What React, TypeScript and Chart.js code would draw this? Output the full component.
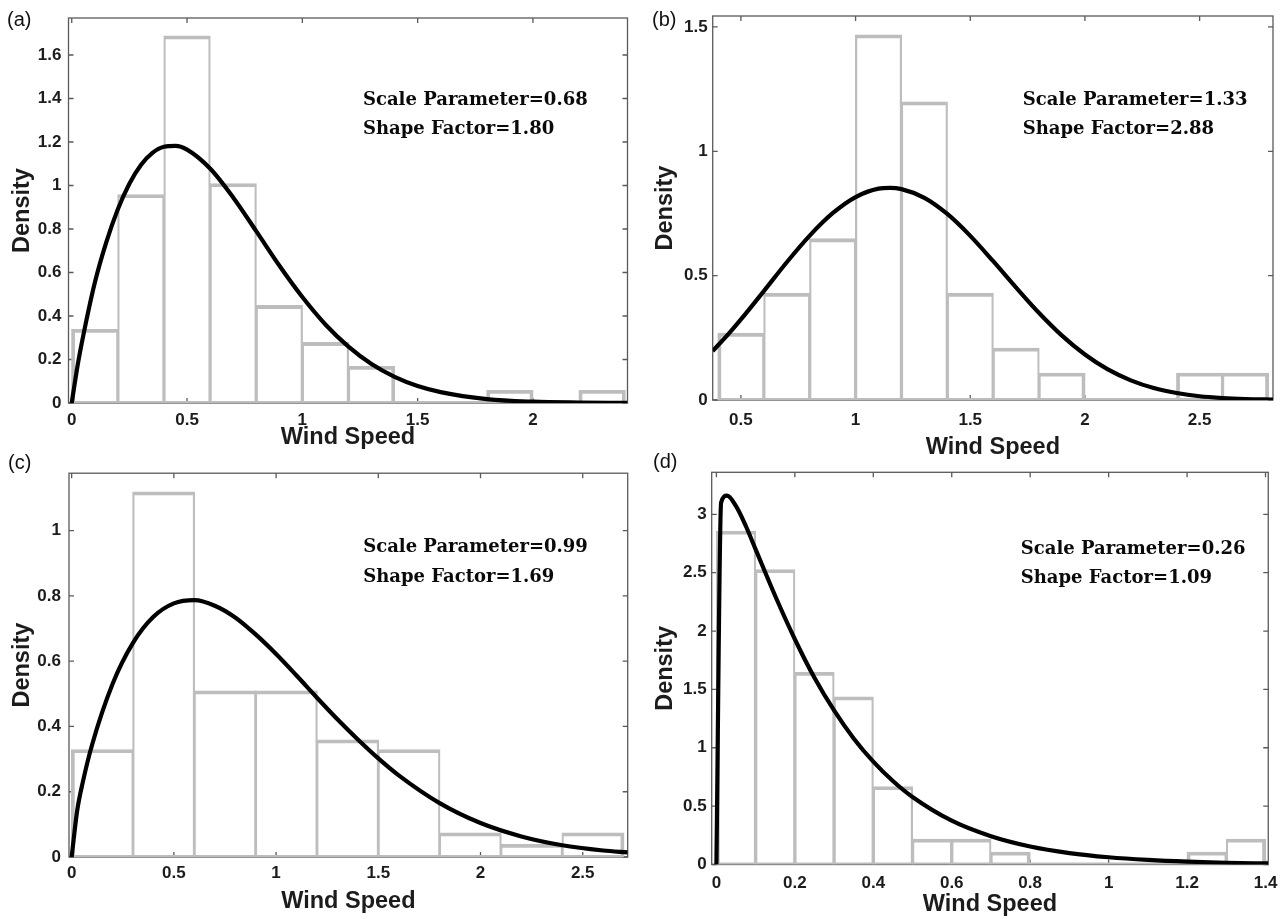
import React, { useEffect, useRef } from 'react';
import { Chart, registerables } from 'chart.js';

Chart.register(...registerables);

// ---------------- Panel (a) ----------------
const aBinCenters = [0.1, 0.3, 0.5, 0.7, 0.9, 1.1, 1.3, 1.5, 1.7, 1.9, 2.1, 2.3];
const aDensity = [0.34, 0.96, 1.69, 1.01, 0.45, 0.28, 0.17, 0, 0, 0.06, 0, 0.06];
const aCurveX = [0, 0.025, 0.05, 0.1, 0.15, 0.2, 0.25, 0.3, 0.35, 0.4, 0.45, 0.5, 0.6, 0.7, 0.8, 0.9, 1.0, 1.1, 1.2, 1.3, 1.4, 1.5, 1.6, 1.8, 2.0, 2.2, 2.41];
const aCurveY = [0, 0.17, 0.31, 0.553, 0.74, 0.891, 1.008, 1.094, 1.15, 1.178, 1.182, 1.165, 1.078, 0.945, 0.79, 0.632, 0.487, 0.361, 0.259, 0.179, 0.12, 0.078, 0.05, 0.018, 0.006, 0.002, 0.0004];
const aXTicks = [0, 0.5, 1, 1.5, 2];
const aXTickLabels = ['0', '0.5', '1', '1.5', '2'];
const aYTicks = [0, 0.2, 0.4, 0.6, 0.8, 1, 1.2, 1.4, 1.6];
const aYTickLabels = ['0', '0.2', '0.4', '0.6', '0.8', '1', '1.2', '1.4', '1.6'];
const aXRange = [-0.014, 2.41];
const aYRange = [0, 1.77];
const aNote = ['Scale Parameter=0.68', 'Shape Factor=1.80'];
const aNoteAt = [1.263, 1.393, 1.26];

// ---------------- Panel (b) ----------------
const bBinCenters = [0.5, 0.7, 0.9, 1.1, 1.3, 1.5, 1.7, 1.9, 2.1, 2.3, 2.5, 2.7];
const bDensity = [0.27, 0.43, 0.65, 1.47, 1.2, 0.43, 0.21, 0.11, 0, 0, 0.11, 0.11];
const bCurveX = [0.377, 0.45, 0.5, 0.6, 0.7, 0.8, 0.9, 1.0, 1.1, 1.15, 1.2, 1.3, 1.4, 1.5, 1.6, 1.7, 1.8, 1.9, 2.0, 2.1, 2.2, 2.3, 2.4, 2.5, 2.6, 2.7, 2.82];
const bCurveY = [0.197, 0.27, 0.324, 0.438, 0.554, 0.661, 0.751, 0.816, 0.85, 0.853, 0.848, 0.813, 0.748, 0.66, 0.558, 0.452, 0.35, 0.259, 0.183, 0.123, 0.079, 0.048, 0.028, 0.015, 0.008, 0.004, 0.0015];
const bXTicks = [0.5, 1, 1.5, 2, 2.5];
const bXTickLabels = ['0.5', '1', '1.5', '2', '2.5'];
const bYTicks = [0, 0.5, 1, 1.5];
const bYTickLabels = ['0', '0.5', '1', '1.5'];
const bXRange = [0.377, 2.82];
const bYRange = [0, 1.544];
const bNote = ['Scale Parameter=1.33', 'Shape Factor=2.88'];
const bNoteAt = [1.729, 1.206, 1.09];

// ---------------- Panel (c) ----------------
const cBinCenters = [0.15, 0.45, 0.75, 1.05, 1.35, 1.65, 1.95, 2.25, 2.55];
const cDensity = [0.33, 1.12, 0.51, 0.51, 0.36, 0.33, 0.075, 0.04, 0.075];
const cCurveX = [0, 0.027, 0.054, 0.1, 0.2, 0.3, 0.4, 0.5, 0.6, 0.7, 0.8, 0.9, 1.0, 1.1, 1.2, 1.3, 1.4, 1.5, 1.6, 1.8, 2.0, 2.2, 2.4, 2.6, 2.72];
const cCurveY = [0, 0.142, 0.228, 0.344, 0.53, 0.656, 0.736, 0.777, 0.787, 0.77, 0.734, 0.682, 0.622, 0.556, 0.488, 0.422, 0.36, 0.302, 0.25, 0.165, 0.104, 0.063, 0.036, 0.02, 0.014];
const cXTicks = [0, 0.5, 1, 1.5, 2, 2.5];
const cXTickLabels = ['0', '0.5', '1', '1.5', '2', '2.5'];
const cYTicks = [0, 0.2, 0.4, 0.6, 0.8, 1];
const cYTickLabels = ['0', '0.2', '0.4', '0.6', '0.8', '1'];
const cXRange = [-0.013, 2.72];
const cYRange = [0, 1.176];
const cNote = ['Scale Parameter=0.99', 'Shape Factor=1.69'];
const cNoteAt = [1.426, 0.948, 0.856];

// ---------------- Panel (d) ----------------
const dBinCenters = [0.05, 0.15, 0.25, 0.35, 0.45, 0.55, 0.65, 0.75, 0.85, 0.95, 1.05, 1.15, 1.25, 1.35];
const dDensity = [2.86, 2.53, 1.65, 1.44, 0.67, 0.22, 0.22, 0.11, 0, 0, 0, 0, 0.11, 0.22];
const dCurveX = [0, 0.012, 0.027, 0.05, 0.075, 0.1, 0.15, 0.2, 0.25, 0.3, 0.35, 0.4, 0.45, 0.5, 0.6, 0.7, 0.8, 0.9, 1.0, 1.1, 1.2, 1.3, 1.407];
const dCurveY = [0, 3.1, 3.16, 3.07, 2.9, 2.7, 2.3, 1.93, 1.6, 1.32, 1.08, 0.881, 0.715, 0.578, 0.375, 0.242, 0.154, 0.098, 0.062, 0.039, 0.024, 0.015, 0.009];
const dXTicks = [0, 0.2, 0.4, 0.6, 0.8, 1, 1.2, 1.4];
const dXTickLabels = ['0', '0.2', '0.4', '0.6', '0.8', '1', '1.2', '1.4'];
const dYTicks = [0, 0.5, 1, 1.5, 2, 2.5, 3];
const dYTickLabels = ['0', '0.5', '1', '1.5', '2', '2.5', '3'];
const dXRange = [-0.012, 1.407];
const dYRange = [0, 3.36];
const dNote = ['Scale Parameter=0.26', 'Shape Factor=1.09'];
const dNoteAt = [0.776, 2.704, 2.455];

const X_TITLE = 'Wind Speed';
const Y_TITLE = 'Density';

type Panel = {
  letter: string;
  binCenters: number[]; density: number[];
  curveX: number[]; curveY: number[];
  xTicks: number[]; xTickLabels: string[];
  yTicks: number[]; yTickLabels: string[];
  xRange: number[]; yRange: number[];
  note: string[]; noteAt: number[];
};

type Geo = {
  left: number; top: number; w: number; h: number;
  l: number; t: number; r: number; b: number;
  xPad: number; yPad: number; xtPad: number; ytPad: number;
  lx: number; ly: number;
};

const panels: Panel[] = [
  { letter: '(a)', binCenters: aBinCenters, density: aDensity, curveX: aCurveX, curveY: aCurveY, xTicks: aXTicks, xTickLabels: aXTickLabels, yTicks: aYTicks, yTickLabels: aYTickLabels, xRange: aXRange, yRange: aYRange, note: aNote, noteAt: aNoteAt },
  { letter: '(b)', binCenters: bBinCenters, density: bDensity, curveX: bCurveX, curveY: bCurveY, xTicks: bXTicks, xTickLabels: bXTickLabels, yTicks: bYTicks, yTickLabels: bYTickLabels, xRange: bXRange, yRange: bYRange, note: bNote, noteAt: bNoteAt },
  { letter: '(c)', binCenters: cBinCenters, density: cDensity, curveX: cCurveX, curveY: cCurveY, xTicks: cXTicks, xTickLabels: cXTickLabels, yTicks: cYTicks, yTickLabels: cYTickLabels, xRange: cXRange, yRange: cYRange, note: cNote, noteAt: cNoteAt },
  { letter: '(d)', binCenters: dBinCenters, density: dDensity, curveX: dCurveX, curveY: dCurveY, xTicks: dXTicks, xTickLabels: dXTickLabels, yTicks: dYTicks, yTickLabels: dYTickLabels, xRange: dXRange, yRange: dYRange, note: dNote, noteAt: dNoteAt },
];

// layout (canvas placement and chart-area inside each canvas)
const geos: Geo[] = [
  { left: 0, top: 0, w: 640, h: 452, l: 68.5, t: 18, r: 627.5, b: 403, xPad: 7.3, yPad: 7, xtPad: 0.5, ytPad: 8.2, lx: 7, ly: 9 },
  { left: 640, top: 0, w: 646, h: 462, l: 72.7, t: 16, r: 633, b: 400, xPad: 9.8, yPad: 5, xtPad: 0.5, ytPad: 11, lx: 652, ly: 9 },
  { left: 0, top: 455, w: 640, h: 464, l: 69, t: 17.3, r: 627.7, b: 402, xPad: 6.6, yPad: 8, xtPad: 3.5, ytPad: 8.2, lx: 8, ly: 452 },
  { left: 640, top: 455, w: 646, h: 464, l: 71.7, t: 17.3, r: 632.3, b: 409.5, xPad: 8.6, yPad: 5, xtPad: 0, ytPad: 11, lx: 653, ly: 451 },
];

const SANS = '"Liberation Sans", Arial, Helvetica, sans-serif';
const BAR_COLOR = '#bdbdbd';
const TEXT_COLOR = '#1c1c1c';

function makeConfig(p: Panel, g: Geo): any {
  const n = p.binCenters.length;
  const binW = n > 1 ? p.binCenters[1] - p.binCenters[0] : 0.2;
  const heights = p.density;

  const framePlugin = {
    id: 'frame' + p.letter,
    beforeDatasetsDraw(chart: any) {
      const { ctx, chartArea } = chart;
      const { left, top, right, bottom } = chartArea;
      const xs = chart.scales.x;
      const ys = chart.scales.y;
      ctx.save();
      ctx.strokeStyle = '#5a5a5a';
      ctx.lineWidth = 1.3;
      ctx.strokeRect(left, top, right - left, bottom - top);
      ctx.beginPath();
      const tl = 5;
      xs.ticks.forEach((t: any) => {
        const px = xs.getPixelForValue(t.value);
        ctx.moveTo(px, bottom); ctx.lineTo(px, bottom - tl);
        ctx.moveTo(px, top); ctx.lineTo(px, top + tl);
      });
      ys.ticks.forEach((t: any) => {
        const py = ys.getPixelForValue(t.value);
        ctx.moveTo(left, py); ctx.lineTo(left + tl, py);
        ctx.moveTo(right, py); ctx.lineTo(right - tl, py);
      });
      ctx.stroke();
      ctx.restore();
    },
  };

  const notePlugin = {
    id: 'note' + p.letter,
    afterDatasetsDraw(chart: any) {
      const { ctx } = chart;
      const xs = chart.scales.x;
      const ys = chart.scales.y;
      ctx.save();
      ctx.font = 'bold 18px "DejaVu Serif", "Liberation Serif", serif';
      ctx.fillStyle = '#0a0a0a';
      ctx.textAlign = 'left';
      ctx.textBaseline = 'middle';
      const px = xs.getPixelForValue(p.noteAt[0]);
      p.note.forEach((s, i) => {
        ctx.fillText(s, px, ys.getPixelForValue(p.noteAt[i + 1]));
      });
      ctx.restore();
    },
  };

  const tickFont = { family: SANS, size: 17, weight: 'bold' };
  const titleFont = { family: SANS, size: 23.5, weight: 'bold' };

  return {
    type: 'bar',
    data: {
      datasets: [
        {
          type: 'line',
          label: 'Weibull fit',
          data: p.curveX.map((x, i) => ({ x, y: p.curveY[i] })),
          borderColor: '#000',
          borderWidth: 4.2,
          pointRadius: 0,
          fill: false,
          cubicInterpolationMode: 'monotone',
          order: 1,
        },
        {
          type: 'bar',
          label: 'Histogram',
          data: p.binCenters.map((x, i) => ({ x, y: heights[i] })),
          backgroundColor: 'rgba(255,255,255,0)',
          borderColor: BAR_COLOR,
          borderSkipped: false,
          inflateAmount: 0,
          barPercentage: 1.025,
          categoryPercentage: 1,
          borderWidth: (c: any) => {
            const i = c.dataIndex;
            const prev = i > 0 ? heights[i - 1] : 0;
            const next = i < n - 1 ? heights[i + 1] : 0;
            return { top: 3.8, bottom: 0, left: prev > 0 ? 2.2 : 3.8, right: next > 0 ? 2.2 : 3.8 };
          },
          order: 2,
        },
        {
          type: 'line',
          label: 'Histogram base',
          data: [
            { x: p.binCenters[0] - binW / 2, y: 0 },
            { x: p.binCenters[n - 1] + binW / 2, y: 0 },
          ],
          borderColor: BAR_COLOR,
          borderWidth: 3.8,
          pointRadius: 0,
          fill: false,
          order: 3,
        },
      ],
    },
    options: {
      responsive: false,
      animation: false,
      events: [],
      layout: { padding: { left: 0, top: g.t, right: g.w - g.r, bottom: 0 } },
      plugins: { legend: { display: false }, tooltip: { enabled: false } },
      scales: {
        x: {
          type: 'linear',
          position: 'bottom',
          min: p.xRange[0],
          max: p.xRange[1],
          offset: false,
          bounds: 'data',
          grid: { display: false, drawTicks: false },
          border: { display: false },
          afterBuildTicks: (s: any) => { s.ticks = p.xTicks.map((v) => ({ value: v })); },
          afterFit: (s: any) => { s.height = g.h - g.b; },
          ticks: {
            autoSkip: false, maxRotation: 0, minRotation: 0, padding: g.xPad,
            font: tickFont, color: TEXT_COLOR,
            callback: (_v: any, i: number) => p.xTickLabels[i],
          },
          title: { display: true, text: X_TITLE, font: titleFont, color: TEXT_COLOR, padding: { top: 0, bottom: g.xtPad } },
        },
        y: {
          type: 'linear',
          position: 'left',
          min: p.yRange[0],
          max: p.yRange[1],
          bounds: 'data',
          grid: { display: false, drawTicks: false },
          border: { display: false },
          afterBuildTicks: (s: any) => { s.ticks = p.yTicks.map((v) => ({ value: v })); },
          afterFit: (s: any) => { s.width = g.l; },
          ticks: {
            autoSkip: false, padding: g.yPad,
            font: tickFont, color: TEXT_COLOR,
            callback: (_v: any, i: number) => p.yTickLabels[i],
          },
          title: { display: true, text: Y_TITLE, font: titleFont, color: TEXT_COLOR, padding: { top: g.ytPad, bottom: 0 } },
        },
      },
    },
    plugins: [framePlugin, notePlugin],
  };
}

function PanelChart({ p, g }: { p: Panel; g: Geo }) {
  const ref = useRef<HTMLCanvasElement | null>(null);
  useEffect(() => {
    if (!ref.current) return;
    const chart = new Chart(ref.current, makeConfig(p, g));
    return () => chart.destroy();
  }, [p, g]);
  return (
    <canvas
      ref={ref}
      width={g.w}
      height={g.h}
      style={{ position: 'absolute', left: g.left, top: g.top, width: g.w, height: g.h }}
    />
  );
}

export default function App() {
  return (
    <div style={{ position: 'absolute', left: 0, top: 0, width: 1286, height: 919, background: '#fff', overflow: 'hidden' }}>
      {panels.map((p, i) => (
        <PanelChart key={p.letter} p={p} g={geos[i]} />
      ))}
      {panels.map((p, i) => (
        <div
          key={'lbl' + p.letter}
          style={{
            position: 'absolute', left: geos[i].lx, top: geos[i].ly,
            font: '20px ' + SANS, lineHeight: '20px', color: '#111',
          }}
        >
          {p.letter}
        </div>
      ))}
    </div>
  );
}
